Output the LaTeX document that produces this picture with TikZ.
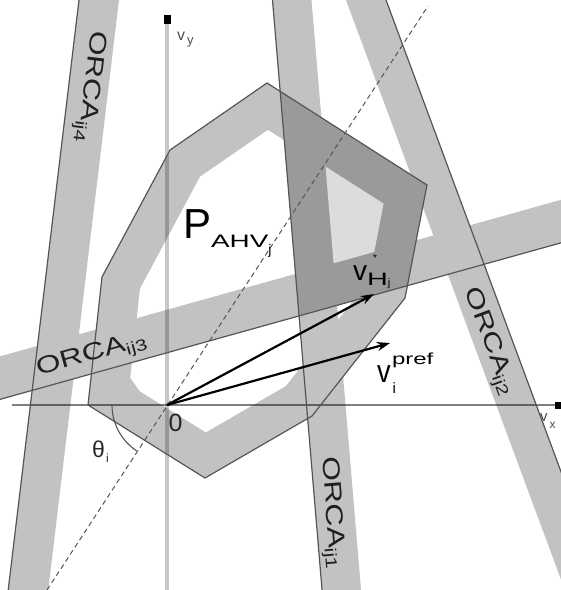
\documentclass[tikz,border=0pt]{standalone}
\usepackage{graphicx}
\usepackage{fontspec}
\setmainfont{Liberation Sans}
\usetikzlibrary{arrows.meta}
\definecolor{bandgray}{HTML}{C2C2C2}
\definecolor{darkreg}{HTML}{9A9A9A}
\definecolor{lightreg}{HTML}{DCDCDC}
\definecolor{edgegray}{HTML}{555555}
\newcommand\fsz[1]{\fontsize{#1}{#1}\selectfont}
\newcommand\orcalabel[1]{\scalebox{1.32}[1]{\fsz{24}ORCA\raisebox{-5pt}{\fsz{16}#1}}}
\begin{document}
\begin{tikzpicture}[x=1pt,y=-1pt,
  bandedge/.style={draw=edgegray,line width=1.2pt},
  polyedge/.style={draw=edgegray,line width=1.2pt,line join=miter},
  dashline/.style={draw=edgegray,line width=1pt,dash pattern=on 5pt off 3.5pt},
  vec/.style={draw=black,line width=2.2pt,-{Stealth[length=13pt,width=9pt]}},
  lbl/.style={inner sep=0pt,outer sep=0pt,anchor=base west,text=black},
  orcalbl/.style={lbl,text=black!88}]
\useasboundingbox (0,0) rectangle (561,590);
\clip (0,0) rectangle (561,590);

% outer polygon P_AHV
\coordinate (A) at (267,83);
\coordinate (B) at (427,185);
\coordinate (C) at (405,298);
\coordinate (D) at (312,416);
\coordinate (E) at (205,478);
\coordinate (F) at (88,405);
\coordinate (G) at (102,277);
\coordinate (H) at (170,150);
% inner hole
\coordinate (a1) at (267.9,129.8);
\coordinate (b1) at (383.6,203.6);
\coordinate (c1) at (368.5,281.3);
\coordinate (d1) at (286.0,386.0);
\coordinate (e1) at (205.8,432.5);
\coordinate (f1) at (140,391.5);
\coordinate (f2) at (130.2,377.9);
\coordinate (g1) at (139.9,288.8);
\coordinate (h1) at (199.9,176.7);
% ORCA band lines
\coordinate (L1a) at (271.66,-10); \coordinate (L1b) at (322.9,600);
\coordinate (R1a) at (310.66,-10); \coordinate (R1b) at (361.9,600);
\coordinate (L2a) at (382.29,-10); \coordinate (L2b) at (608.6,600);
\coordinate (R2a) at (342.29,-10); \coordinate (R2b) at (568.6,600);
\coordinate (L3a) at (-10,402.14); \coordinate (L3b) at (571,240.04);
\coordinate (R3a) at (-10,359.14); \coordinate (R3b) at (571,197.04);
\coordinate (L4a) at (80.2,-10);   \coordinate (L4b) at (7,600);
\coordinate (R4a) at (120.2,-10);  \coordinate (R4b) at (47,600);

% bands
\fill[bandgray] (L1a)--(L1b)--(R1b)--(R1a)--cycle;
\fill[bandgray] (L2a)--(L2b)--(R2b)--(R2a)--cycle;
\fill[bandgray] (L3a)--(L3b)--(R3b)--(R3a)--cycle;
\fill[bandgray] (L4a)--(L4b)--(R4b)--(R4a)--cycle;
\fill[bandgray,even odd rule] (A)--(B)--(C)--(D)--(E)--(F)--(G)--(H)--cycle
  (a1)--(b1)--(c1)--(d1)--(e1)--(f1)--(f2)--(g1)--(h1)--cycle;

% dark region
\begin{scope}
  \clip (A)--(B)--(C)--(D)--(E)--(F)--(G)--(H)--cycle;
  \clip (L1a)--(L1b)--(620,600)--(620,-10)--cycle;
  \clip (L3a)--(L3b)--(571,-10)--(-10,-10)--cycle;
  \fill[darkreg] (0,0) rectangle (561,590);
\end{scope}
% light region
\begin{scope}
  \clip (a1)--(b1)--(c1)--(d1)--(e1)--(f1)--(f2)--(g1)--(h1)--cycle;
  \clip (R1a)--(R1b)--(620,600)--(620,-10)--cycle;
  \clip (R3a)--(R3b)--(571,-10)--(-10,-10)--cycle;
  \fill[lightreg] (0,0) rectangle (561,590);
\end{scope}

% axes
\coordinate (O) at (167,405);
\coordinate (Xs) at (12,405); \coordinate (Xe) at (557,405);
\coordinate (Ys) at (167,592); \coordinate (Ye) at (167,22);
\draw[line width=4pt,draw=black,draw opacity=0.22] (Ys)--(Ye);
\draw[line width=1.8pt,draw=black,draw opacity=0.5] (Xs)--(Xe);
\fill[black] (163.5,15) rectangle (171,24);
\fill[black] (555,401.5) rectangle (561,408.5);

% edges
\draw[bandedge] (L1a)--(L1b);
\draw[bandedge] (L2a)--(L2b);
\draw[bandedge] (L3a)--(L3b);
\draw[bandedge] (L4a)--(L4b);
\draw[polyedge] (A)--(B)--(C)--(D)--(E)--(F)--(G)--(H)--cycle;

% dashed line through origin
\coordinate (D1) at (47,590); \coordinate (D2) at (428,6);
\draw[dashline] (D1)--(D2);

% angle arc
\draw[edgegray,line width=1.1pt] (O) ++(180:55) arc[start angle=180,end angle=123.2,radius=55];

% vectors
\coordinate (vH) at (374,294);
\coordinate (vp) at (390,343);
\draw[vec] (O)--(vH);
\draw[vec] (O)--(vp);

% labels
\node[orcalbl,rotate=-96.7] (o4) at (91.5,30) {\orcalabel{ij4}};
\node[orcalbl,rotate=-85.2] (o1) at (322,457) {\orcalabel{ij1}};
\node[orcalbl,rotate=-69.6] (o2) at (464.6,290.3) {\orcalabel{ij2}};
\node[orcalbl,rotate=15.6] (o3) at (38.5,375) {\orcalabel{ij3}};

\node[lbl] (pahv) at (183,238) {{\fsz{42}P}\raisebox{-9pt}{\scalebox{1.55}[1]{\fsz{18}AHV}}\raisebox{-16pt}{\fsz{14}j}};

\node[lbl] (vhl) at (353,280) {{\fsz{28}v}\raisebox{-5pt}{\scalebox{1.6}[1]{\fsz{18}H}}\raisebox{-6pt}{\fsz{11}j}};
\node[lbl] (vhstar) at (373,261) {\fsz{10}*};

\node[lbl] (vpv) at (377,382) {\scalebox{0.85}[1]{\fsz{32}v}};
\node[lbl] (vpsup) at (392,364) {\scalebox{1.5}[1]{\fsz{16}pref}};
\node[lbl] (vpsub) at (392.5,393) {\fsz{15}i};

\node[lbl,text=black!85] (zero) at (168.5,431) {\fsz{25}0};
\node[lbl,text=black!85] (theta) at (92,457) {\fsz{23}θ};
\node[lbl,text=black!85] (thetai) at (106,462) {\fsz{12}i};

\node[lbl,text=black!70] (vyv) at (177,40) {\fsz{16}v};
\node[lbl,text=black!70] (vyy) at (187,44) {\fsz{13}y};
\node[lbl,text=black!70] (vxv) at (540,421) {\fsz{15}v};
\node[lbl,text=black!70] (vxx) at (549.5,428) {\fsz{12}x};
\end{tikzpicture}
\end{document}
